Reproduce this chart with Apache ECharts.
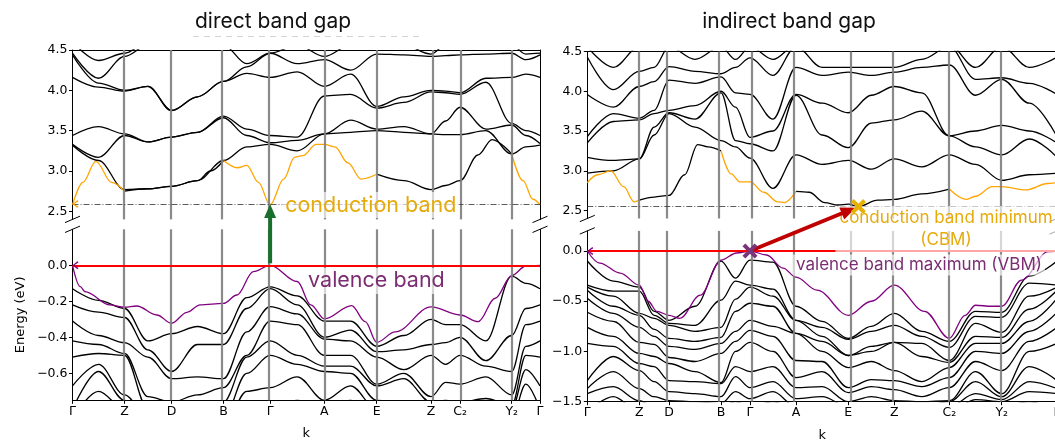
<!DOCTYPE html>
<html>
<head>
<meta charset="utf-8">
<script src="https://cdn.jsdelivr.net/npm/echarts@6/dist/echarts.min.js"></script>
<style>
  html, body { margin: 0; padding: 0; background: #fff; }
  #chart { width: 1055px; height: 441px; }
</style>
</head>
<body>
<div id="chart"></div>
<script>
// ---- k-path: positions of the high-symmetry points (normalised path length) ----
const K_LEFT  = [0, 0.1112, 0.2117, 0.3229, 0.4227, 0.5388, 0.6508, 0.7669, 0.829, 0.9395, 1];
const K_RIGHT = [0, 0.1107, 0.174, 0.2847, 0.3464, 0.4443, 0.5557, 0.6536, 0.7707, 0.8823, 1];
const K_LABELS = ['Γ', 'Z', 'D', 'B', 'Γ', 'A', 'E', 'Z', 'C₂', 'Y₂', 'Γ'];

// sample points along the path, in segment units (0 = first Γ, 10 = last Γ)
const S_SAMPLES = [0, 0.5, 1, 1.5, 2, 2.5, 3, 3.5, 4, 4.5, 5, 5.5, 6, 6.5, 7, 7.5, 8, 8.5, 9, 9.5, 10];

// ---- y ticks ----
const UPPER_TICKS = [2.5, 3.0, 3.5, 4.0, 4.5];
const LEFT_LOWER_TICKS = [0, -0.2, -0.4, -0.6];
const RIGHT_LOWER_TICKS = [0, -0.5, -1.0, -1.5];

// ---- band edges ----
const LEFT_CBM = 2.59;      // direct gap: CBM at Γ
const RIGHT_CBM = 2.55;     // indirect gap: CBM between E and Z
const RIGHT_CBM_S = 6.22;
const VBM_S = 4;            // VBM at the middle Γ in both panels

// ---- direct gap: conduction bands (eV), one row per sample point ----
const LEFT_CB_ROWS = [
  [3.32, 3.33, 3.44, 4.16, 4.44, 4.46, 4.6],
  [3.13, 3.17, 3.55, 4.04, 4.09, 4.15, 4.37],
  [2.77, 3.44, 3.46, 3.99, 4.00, 4.42, 4.46],
  [2.78, 3.36, 3.36, 4.05, 4.05, 4.56, 4.6],
  [2.81, 3.42, 3.42, 3.75, 3.75, 4.56, 4.6],
  [2.88, 3.48, 3.48, 3.92, 3.92, 4.56, 4.6],
  [3.13, 3.66, 3.68, 4.11, 4.11, 4.56, 4.6],
  [3.30, 3.44, 3.52, 4.21, 4.29, 4.33, 4.6],
  [3.33, 3.35, 3.44, 4.16, 4.46, 4.46, 4.6],
  [3.25, 3.38, 3.42, 4.23, 4.33, 4.56, 4.6],
  [3.46, 3.46, 3.93, 4.05, 4.38, 4.42, 4.6],
  [3.48, 3.63, 3.95, 4.20, 4.25, 4.56, 4.6],
  [3.50, 3.52, 3.78, 3.80, 4.45, 4.56, 4.6],
  [3.48, 3.55, 3.85, 3.92, 4.44, 4.56, 4.6],
  [3.46, 3.46, 3.98, 4.00, 4.42, 4.45, 4.6],
  [3.45, 3.62, 3.97, 3.99, 4.43, 4.56, 4.6],
  [3.45, 3.79, 3.95, 3.97, 4.44, 4.56, 4.6],
  [3.50, 3.52, 4.10, 4.15, 4.45, 4.56, 4.6],
  [3.21, 3.57, 3.59, 4.16, 4.46, 4.56, 4.6],
  [3.30, 3.44, 3.50, 4.20, 4.38, 4.45, 4.6],
  [3.32, 3.34, 3.44, 4.16, 4.44, 4.46, 4.6]
];
// lowest conduction band [s, E]
const LEFT_CB_LOW = [
  [0, 2.58], [0.2, 2.86], [0.45, 3.12], [0.75, 2.86], [1, 2.75], [1.5, 2.78], [2, 2.81],
  [2.5, 2.88], [2.75, 3.0], [3, 3.13], [3.3, 3.04], [3.5, 3.07], [3.75, 2.86], [4, 2.58],
  [4.25, 2.9], [4.45, 3.17], [4.6, 3.19], [4.85, 3.33], [5, 3.33], [5.2, 3.3], [5.45, 3.1],
  [5.7, 2.9], [6, 2.96], [6.5, 2.88], [7, 2.77], [7.5, 2.82], [8, 2.88], [8.35, 3.2],
  [8.62, 3.39], [9, 3.21], [9.4, 2.88], [9.75, 2.65], [10, 2.58]
];
const LEFT_CB_HIGHLIGHT = [[0, 1], [3, 6], [9, 10]];

// ---- direct gap: valence bands ----
const LEFT_VB_ROWS = [
  [-0.13, -0.22, -0.31, -0.42, -0.51, -0.67, -0.80, -0.85],
  [-0.195, -0.26, -0.39, -0.44, -0.49, -0.55, -0.59, -0.70],
  [-0.24, -0.29, -0.43, -0.49, -0.50, -0.72, -0.75, -0.80],
  [-0.42, -0.47, -0.51, -0.73, -0.80, -0.85, -0.90, -0.95],
  [-0.38, -0.59, -0.63, -0.76, -0.80, -0.85, -0.90, -0.95],
  [-0.34, -0.44, -0.62, -0.72, -0.80, -0.85, -0.90, -0.95],
  [-0.38, -0.44, -0.63, -0.68, -0.76, -0.85, -0.90, -0.95],
  [-0.18, -0.24, -0.37, -0.50, -0.51, -0.60, -0.70, -0.76],
  [-0.12, -0.13, -0.23, -0.31, -0.42, -0.50, -0.68, -0.80],
  [-0.17, -0.22, -0.27, -0.33, -0.50, -0.55, -0.62, -0.75],
  [-0.31, -0.40, -0.41, -0.50, -0.56, -0.59, -0.75, -0.80],
  [-0.31, -0.36, -0.42, -0.50, -0.56, -0.60, -0.67, -0.75],
  [-0.45, -0.48, -0.51, -0.66, -0.67, -0.75, -0.80, -0.85],
  [-0.39, -0.47, -0.58, -0.60, -0.63, -0.76, -0.80, -0.85],
  [-0.30, -0.44, -0.50, -0.73, -0.76, -0.80, -0.85, -0.90],
  [-0.33, -0.43, -0.55, -0.65, -0.75, -0.80, -0.85, -0.90],
  [-0.33, -0.40, -0.50, -0.66, -0.76, -0.80, -0.85, -0.90],
  [-0.42, -0.53, -0.56, -0.62, -0.74, -0.80, -0.85, -0.90],
  [-0.06, -0.39, -0.59, -0.72, -0.78, -0.80, -0.85, -0.90],
  [-0.10, -0.24, -0.33, -0.45, -0.50, -0.58, -0.66, -0.80],
  [-0.13, -0.22, -0.31, -0.42, -0.51, -0.67, -0.80, -0.85]
];
// topmost valence band [s, E]
const LEFT_VB_TOP = [
  [0, 0], [0.15, -0.119], [0.24, -0.146], [0.72, -0.22], [1, -0.233], [1.26, -0.226],
  [1.69, -0.276], [2, -0.322], [2.3, -0.261], [2.55, -0.22], [3, -0.212], [3.29, -0.165],
  [3.64, -0.035], [4, 0], [4.5, -0.09], [4.75, -0.22], [5, -0.298], [5.52, -0.224],
  [5.78, -0.313], [6, -0.428], [6.34, -0.37], [7, -0.231], [8, -0.276], [8.35, -0.313],
  [8.68, -0.183], [9, -0.057], [9.5, -0.004], [10, 0]
];

// ---- indirect gap: conduction bands ----
const RIGHT_CB_ROWS = [
  [2.97, 3.17, 3.35, 3.43, 3.96, 4.43, 4.56],
  [3.00, 3.13, 3.62, 3.72, 3.80, 4.02, 4.30],
  [3.15, 3.15, 3.64, 3.66, 4.06, 4.25, 4.56],
  [3.45, 3.55, 3.72, 3.76, 4.12, 4.30, 4.56],
  [3.72, 3.73, 3.76, 4.14, 4.31, 4.56, 4.6],
  [3.55, 3.65, 3.82, 4.10, 4.25, 4.40, 4.6],
  [3.38, 3.98, 4.00, 4.18, 4.22, 4.56, 4.6],
  [3.30, 3.38, 3.80, 3.98, 4.30, 4.40, 4.6],
  [3.16, 3.34, 3.42, 3.96, 4.42, 4.56, 4.6],
  [2.78, 3.25, 3.50, 3.65, 4.20, 4.40, 4.6],
  [3.20, 3.95, 3.96, 4.30, 4.56, 4.58, 4.6],
  [3.08, 3.45, 3.85, 4.20, 4.30, 4.56, 4.6],
  [3.13, 3.29, 3.73, 4.24, 4.30, 4.56, 4.6],
  [3.02, 3.60, 3.95, 4.20, 4.30, 4.56, 4.6],
  [3.15, 3.64, 4.06, 4.24, 4.30, 4.56, 4.6],
  [3.05, 3.75, 3.98, 4.30, 4.40, 4.56, 4.6],
  [3.20, 3.44, 3.44, 4.33, 4.56, 4.58, 4.6],
  [3.08, 3.30, 3.50, 3.95, 4.15, 4.30, 4.56],
  [2.88, 3.20, 3.57, 4.15, 4.17, 4.56, 4.6],
  [2.95, 3.40, 3.50, 3.85, 4.10, 4.30, 4.56],
  [2.97, 3.17, 3.35, 3.43, 3.96, 4.43, 4.56]
];
const RIGHT_CB_LOW = [
  [0, 2.85], [0.2, 2.95], [0.45, 3.0], [0.7, 2.8], [0.9, 2.61], [1, 2.63], [1.5, 2.67],
  [2, 2.69], [2.3, 2.95], [2.55, 3.33], [2.75, 3.3], [3, 3.25], [3.35, 2.96], [3.65, 2.86],
  [4, 2.86], [4.3, 2.73], [4.6, 2.61], [4.75, 2.6], [5, 2.74], [5.25, 2.73], [5.55, 2.6],
  [5.8, 2.57], [6, 2.58], [6.22, 2.55], [6.64, 2.63], [7, 2.64], [7.5, 2.71], [8, 2.77],
  [8.32, 2.64], [8.5, 2.68], [8.82, 2.8], [9, 2.8], [9.45, 2.76], [9.83, 2.84], [10, 2.85]
];
const RIGHT_CB_HIGHLIGHT = [[0, 1], [3, 5], [8, 10]];

// ---- indirect gap: valence bands ----
const RIGHT_VB_ROWS = [
  [-0.10, -0.34, -0.36, -0.39, -0.47, -0.61, -0.76, -0.92, -1.29, -1.37, -1.42, -1.60],
  [-0.30, -0.40, -0.45, -0.55, -0.62, -0.70, -0.85, -0.95, -1.05, -1.20, -1.35, -1.45],
  [-0.36, -0.40, -0.62, -0.64, -0.76, -0.91, -1.02, -1.12, -1.19, -1.37, -1.49, -1.60],
  [-0.60, -0.64, -0.67, -0.78, -0.85, -0.93, -1.05, -1.15, -1.30, -1.45, -1.55, -1.60],
  [-0.69, -0.72, -0.74, -0.87, -0.95, -1.06, -1.12, -1.29, -1.40, -1.49, -1.55, -1.60],
  [-0.55, -0.74, -0.80, -0.90, -0.98, -1.10, -1.20, -1.30, -1.42, -1.50, -1.55, -1.60],
  [-0.10, -0.49, -0.76, -0.86, -0.92, -1.02, -1.31, -1.32, -1.45, -1.52, -1.55, -1.60],
  [-0.27, -0.30, -0.48, -0.60, -0.80, -0.90, -1.00, -1.15, -1.25, -1.40, -1.50, -1.60],
  [-0.09, -0.34, -0.36, -0.52, -0.69, -0.79, -0.91, -1.20, -1.36, -1.47, -1.55, -1.60],
  [-0.11, -0.38, -0.45, -0.55, -0.75, -0.85, -1.00, -1.15, -1.30, -1.40, -1.50, -1.60],
  [-0.55, -0.69, -0.69, -0.82, -0.82, -1.09, -1.26, -1.36, -1.47, -1.55, -1.58, -1.60],
  [-0.70, -0.76, -0.85, -0.90, -1.00, -1.10, -1.20, -1.35, -1.45, -1.52, -1.58, -1.60],
  [-0.87, -0.88, -1.04, -1.04, -1.16, -1.36, -1.41, -1.50, -1.55, -1.58, -1.60, -1.65],
  [-0.75, -0.80, -0.95, -1.00, -1.10, -1.28, -1.35, -1.45, -1.52, -1.58, -1.60, -1.65],
  [-0.62, -0.74, -0.91, -0.91, -1.19, -1.29, -1.38, -1.49, -1.55, -1.58, -1.60, -1.65],
  [-0.80, -0.85, -0.92, -1.05, -1.30, -1.35, -1.45, -1.50, -1.55, -1.58, -1.60, -1.65],
  [-0.90, -0.96, -1.09, -1.11, -1.16, -1.26, -1.36, -1.49, -1.50, -1.55, -1.60, -1.65],
  [-0.60, -0.65, -0.72, -0.85, -0.92, -1.00, -1.10, -1.20, -1.30, -1.42, -1.48, -1.55],
  [-0.61, -0.66, -0.81, -0.86, -0.92, -1.02, -1.19, -1.42, -1.45, -1.48, -1.50, -1.55],
  [-0.25, -0.32, -0.45, -0.58, -0.70, -0.80, -0.90, -1.00, -1.15, -1.30, -1.40, -1.50],
  [-0.10, -0.34, -0.36, -0.39, -0.47, -0.61, -0.76, -0.92, -1.29, -1.37, -1.42, -1.60]
];
const RIGHT_VB_TOP = [
  [0, 0], [0.24, -0.12], [0.63, -0.22], [1, -0.34], [1.3, -0.5], [1.59, -0.6], [2, -0.64],
  [2.21, -0.67], [2.6, -0.44], [3, -0.09], [3.54, -0.02], [4, 0], [4.36, -0.04], [4.72, -0.17],
  [5, -0.26], [5.4, -0.39], [6, -0.64], [6.5, -0.5], [7, -0.34], [7.55, -0.6], [8, -0.87],
  [8.3, -0.64], [8.5, -0.54], [8.8, -0.55], [9, -0.55], [9.36, -0.29], [9.84, -0.007], [10, 0]
];

// ---- colours ----
const C_BAND = '#000000';
const C_CB = '#ffa500';
const C_VB = '#800080';
const C_CB_TEXT = '#e6aa0c';
const C_VB_TEXT = '#7b2d73';
const C_SYM = 'rgba(128,128,128,0.92)';

// ---- helpers ----
function sToK(s, ticks) {
  const i = Math.min(Math.floor(s), ticks.length - 2);
  return ticks[i] + (s - i) * (ticks[i + 1] - ticks[i]);
}
function rowsToBands(rows, ticks) {
  const out = [];
  for (let j = 0; j < rows[0].length; j++) {
    out.push(S_SAMPLES.map((s, i) => [sToK(s, ticks), rows[i][j]]));
  }
  return out;
}
// split a band into the parts inside / outside the highlighted path ranges
function splitBand(pairs, spans, ticks, inside) {
  const out = [];
  for (const [s, e] of pairs) {
    const onSpan = spans.some(([a, b]) => s >= a - 1e-9 && s <= b + 1e-9);
    const strictly = spans.some(([a, b]) => s > a + 1e-9 && s < b - 1e-9);
    const keep = inside ? onSpan : !strictly;
    if (keep) {
      out.push([sToK(s, ticks), e]);
    } else if (out.length && out[out.length - 1][1] !== '-') {
      out.push([sToK(s, ticks), '-']);
    }
  }
  return out;
}
const toK = (pairs, ticks) => pairs.map(([s, e]) => [sToK(s, ticks), e]);
const fmtE = v => (v < -1e-9 ? '\u2212' : '') + Math.abs(v).toFixed(1);

// ---- layout of the four panels (upper/lower for each gap type) ----
const GRIDS = [
  { left: 72.5, top: 50, width: 467.5, height: 169.4 },   // 0 direct, conduction
  { left: 72.5, top: 229.3, width: 467.5, height: 171 },  // 1 direct, valence
  { left: 587.3, top: 51.5, width: 469.7, height: 167 },  // 2 indirect, conduction
  { left: 587.3, top: 230.9, width: 469.7, height: 170.8 } // 3 indirect, valence
];
const Y_RANGES = [[2.4, 4.5], [-0.75, 0.2], [2.4, 4.5], [-1.5, 0.2]];
const PANEL_K = [K_LEFT, K_LEFT, K_RIGHT, K_RIGHT];
const PANEL_TICKS = [UPPER_TICKS, LEFT_LOWER_TICKS, UPPER_TICKS, RIGHT_LOWER_TICKS];

const AX_FONT = 'DejaVu Sans';
const ANN_FONT = 'Inter';

const xAxes = GRIDS.map((g, i) => {
  const upper = i % 2 === 0;
  const K = PANEL_K[i];
  return {
    type: 'value', gridIndex: i, min: 0, max: 1,
    position: upper ? 'top' : 'bottom',
    axisLine: { show: true, onZero: false, lineStyle: { color: '#000', width: 1 } },
    axisTick: upper ? { show: false } : { show: true, customValues: K, length: 3.5, lineStyle: { color: '#000', width: 1 } },
    axisLabel: upper ? { show: false } : {
      show: true, customValues: K, margin: 5, color: '#000', fontSize: 12.5, fontFamily: AX_FONT,
      formatter: v => { const j = K.findIndex(k => Math.abs(k - v) < 1e-6); return j >= 0 ? K_LABELS[j] : ''; }
    },
    splitLine: { show: false },
    name: upper ? '' : 'k', nameLocation: 'middle', nameGap: 27,
    nameTextStyle: { color: '#000', fontSize: 13, fontFamily: AX_FONT }
  };
});

const yAxes = [];
GRIDS.forEach((g, i) => {
  const [mn, mx] = Y_RANGES[i];
  const T = PANEL_TICKS[i];
  yAxes.push({
    type: 'value', gridIndex: i, min: mn, max: mx, position: 'left',
    axisLine: { show: true, onZero: false, lineStyle: { color: '#000', width: 1 } },
    axisTick: { show: true, customValues: T, length: 3.5, lineStyle: { color: '#000', width: 1 } },
    axisLabel: { show: true, customValues: T, formatter: fmtE, margin: 5, color: '#000', fontSize: 12.5, fontFamily: AX_FONT },
    splitLine: { show: false },
    name: i === 1 ? 'Energy (eV)' : '', nameLocation: 'middle', nameGap: 45, nameRotate: 90,
    nameTextStyle: { color: '#000', fontSize: 13, fontFamily: AX_FONT }
  });
  yAxes.push({
    type: 'value', gridIndex: i, min: mn, max: mx, position: 'right',
    axisLine: { show: true, onZero: false, lineStyle: { color: '#000', width: 1 } },
    axisTick: { show: false }, axisLabel: { show: false }, splitLine: { show: false }
  });
});
const Y_LEFT = [0, 2, 4, 6];

const series = [];
const firstSeriesOfGrid = [];
function lineSeries(grid, data, color, width, z) {
  if (firstSeriesOfGrid[grid] === undefined) firstSeriesOfGrid[grid] = series.length;
  series.push({
    type: 'line', xAxisIndex: grid, yAxisIndex: Y_LEFT[grid], data,
    showSymbol: false, symbol: 'none', smooth: 0.35, smoothMonotone: 'x',
    lineStyle: { color, width }, silent: true, animation: false, z, clip: true
  });
}
function markSeries(grid, items, z) {
  series.push({
    type: 'line', xAxisIndex: grid, yAxisIndex: Y_LEFT[grid], data: [], silent: true, animation: false, z,
    markLine: { symbol: ['none', 'none'], silent: true, animation: false, label: { show: false }, data: items }
  });
}
function markerSeries(grid, point, symbol, size, color, offset, z) {
  series.push({
    type: 'scatter', xAxisIndex: grid, yAxisIndex: Y_LEFT[grid], data: [point],
    symbol, symbolSize: size, symbolOffset: offset || [0, 0], silent: true, animation: false, z,
    itemStyle: { color, opacity: 1 }
  });
}

// band lines
rowsToBands(LEFT_CB_ROWS, K_LEFT).forEach(d => lineSeries(0, d, C_BAND, 1.3, 2));
lineSeries(0, splitBand(LEFT_CB_LOW, LEFT_CB_HIGHLIGHT, K_LEFT, false), C_BAND, 1.3, 2);
lineSeries(0, splitBand(LEFT_CB_LOW, LEFT_CB_HIGHLIGHT, K_LEFT, true), C_CB, 1.3, 3);

rowsToBands(LEFT_VB_ROWS, K_LEFT).forEach(d => lineSeries(1, d, C_BAND, 1.3, 2));
lineSeries(1, toK(LEFT_VB_TOP, K_LEFT), C_VB, 1.3, 3);

rowsToBands(RIGHT_CB_ROWS, K_RIGHT).forEach(d => lineSeries(2, d, C_BAND, 1.3, 2));
lineSeries(2, splitBand(RIGHT_CB_LOW, RIGHT_CB_HIGHLIGHT, K_RIGHT, false), C_BAND, 1.3, 2);
lineSeries(2, splitBand(RIGHT_CB_LOW, RIGHT_CB_HIGHLIGHT, K_RIGHT, true), C_CB, 1.3, 3);

rowsToBands(RIGHT_VB_ROWS, K_RIGHT).forEach(d => lineSeries(3, d, C_BAND, 1.3, 2));
lineSeries(3, toK(RIGHT_VB_TOP, K_RIGHT), C_VB, 1.3, 3);

// high-symmetry verticals, band-edge reference lines
const symStyle = { color: C_SYM, width: 2.2, type: 'solid' };
const dashDot = { color: '#333', width: 0.8, type: [6, 2, 1, 2] };
[0, 1, 2, 3].forEach(g => {
  markSeries(g, PANEL_K[g].slice(1, -1).map(k => ({ xAxis: k, lineStyle: symStyle })), 4);
});
markSeries(0, [{ yAxis: LEFT_CBM, lineStyle: dashDot }], 1);
markSeries(2, [{ yAxis: RIGHT_CBM, lineStyle: dashDot }], 1);
markSeries(1, [{ yAxis: 0, lineStyle: { color: '#ff0000', width: 2, type: 'solid' } }], 5);
markSeries(3, [{ yAxis: 0, lineStyle: { color: '#ff0000', width: 2, type: 'solid' } }], 5);

// small arrow tips at the left Γ, and the band-edge crosses
const CHEVRON = 'path://M6,0 L7.2,1.3 L2,4 L7.2,6.7 L6,8 L0,4 Z';
const CROSS = 'path://M0,1.9 L1.9,0 L5,3.1 L8.1,0 L10,1.9 L6.9,5 L10,8.1 L8.1,10 L5,6.9 L1.9,10 L0,8.1 L3.1,5 Z';
markerSeries(0, [0, LEFT_CBM], CHEVRON, [6, 8], C_CB, [3, 0], 6);
markerSeries(1, [0, 0], CHEVRON, [6, 8], C_VB, [3, 0], 6);
markerSeries(3, [0, 0], CHEVRON, [6, 8], C_VB, [3, 0], 6);
markerSeries(3, [K_RIGHT[VBM_S], 0], CROSS, 15, '#7a347a', null, 60);
markerSeries(2, [sToK(RIGHT_CBM_S, K_RIGHT), RIGHT_CBM], CROSS, 15, '#e8b000', null, 60);

const chart = echarts.init(document.getElementById('chart'), null, { renderer: 'canvas' });
chart.setOption({
  animation: false,
  backgroundColor: '#fff',
  grid: GRIDS.map(g => Object.assign({ outerBoundsMode: 'none', containLabel: false }, g)),
  xAxis: xAxes,
  yAxis: yAxes,
  series
});

// ---- annotations placed through the axes ----
const P = (grid, pt) => chart.convertToPixel({ seriesIndex: firstSeriesOfGrid[grid] }, pt);

function arrow(from, to, color, shaftW, headL, headW) {
  const dx = to[0] - from[0], dy = to[1] - from[1];
  const L = Math.hypot(dx, dy), ux = dx / L, uy = dy / L;
  const base = [to[0] - ux * headL, to[1] - uy * headL];
  const nx = -uy, ny = ux;
  return [
    { type: 'line', silent: true, z: 55, shape: { x1: from[0], y1: from[1], x2: base[0] + ux, y2: base[1] + uy },
      style: { stroke: color, lineWidth: shaftW } },
    { type: 'polygon', silent: true, z: 55,
      shape: { points: [to, [base[0] + nx * headW / 2, base[1] + ny * headW / 2], [base[0] - nx * headW / 2, base[1] - ny * headW / 2]] },
      style: { fill: color } }
  ];
}
function label(pos, text, color, size, align, bg) {
  return {
    type: 'text', silent: true, z: 50,
    style: {
      x: pos[0], y: pos[1], text, fill: color, fontSize: size, fontFamily: ANN_FONT,
      align, verticalAlign: 'middle', backgroundColor: bg || 'transparent', padding: [2, 3]
    }
  };
}

const graphics = [];

// axis-break marks on both spines of each panel
[[0, 1], [2, 3]].forEach(([gu, gl]) => {
  const yU = P(gu, [0, 2.4])[1];
  const yL = P(gl, [0, Y_RANGES[gl][1]])[1];
  const xs = [P(gu, [0, 2.4])[0], P(gu, [1, 2.4])[0]];
  xs.forEach(x => {
    [yU, yL].forEach(y => {
      graphics.push({ type: 'line', silent: true, z: 30, shape: { x1: x - 7.5, y1: y + 3.2, x2: x + 7.5, y2: y - 3.2 },
        style: { stroke: '#000', lineWidth: 1 } });
    });
  });
});

// direct gap: VBM -> CBM at Γ
{
  const from = P(1, [K_LEFT[VBM_S], 0]);
  const to = P(0, [K_LEFT[VBM_S], LEFT_CBM]);
  graphics.push(...arrow([from[0], from[1] - 2], to, '#18702c', 4, 14, 12));
}
// indirect gap: VBM at Γ -> CBM between E and Z
{
  const from = P(3, [K_RIGHT[VBM_S], 0]);
  const cbm = P(2, [sToK(RIGHT_CBM_S, K_RIGHT), RIGHT_CBM]);
  const dx = cbm[0] - from[0], dy = cbm[1] - from[1], L = Math.hypot(dx, dy);
  const to = [cbm[0] - dx / L * 3, cbm[1] - dy / L * 3];
  graphics.push(...arrow(from, to, '#c00000', 4, 15, 13));
}

// panel titles
graphics.push(label([273, 22], 'direct band gap', '#111', 21, 'center'));
graphics.push(label([789, 22], 'indirect band gap', '#111', 21, 'center'));
graphics.push({ type: 'line', silent: true, z: 1, shape: { x1: 193, y1: 36.5, x2: 421, y2: 36.5 },
  style: { stroke: '#d4d4d4', lineWidth: 1, lineDash: [6, 5] } });

// band labels
const halo = 'rgba(255,255,255,0.65)';
graphics.push(label(P(0, [0.4484, 2.578]), 'conduction band', C_CB_TEXT, 21.5, 'left', halo));
graphics.push(label(P(1, [0.4975, -0.087]), 'valence band', C_VB_TEXT, 21.5, 'left', halo));
{
  const c = P(3, [0.7637, 0.219]);
  graphics.push({
    type: 'text', silent: true, z: 50,
    style: {
      x: c[0], y: c[1], text: 'conduction band minimum\n(CBM)', fill: C_CB_TEXT, fontSize: 17,
      fontFamily: ANN_FONT, align: 'center', verticalAlign: 'middle', lineHeight: 22,
      backgroundColor: halo, padding: [1, 4]
    }
  });
}
graphics.push(label(P(3, [0.438, -0.139]), 'valence band maximum (VBM)', C_VB_TEXT, 17, 'left', halo));

chart.setOption({ graphic: graphics });
</script>
</body>
</html>
